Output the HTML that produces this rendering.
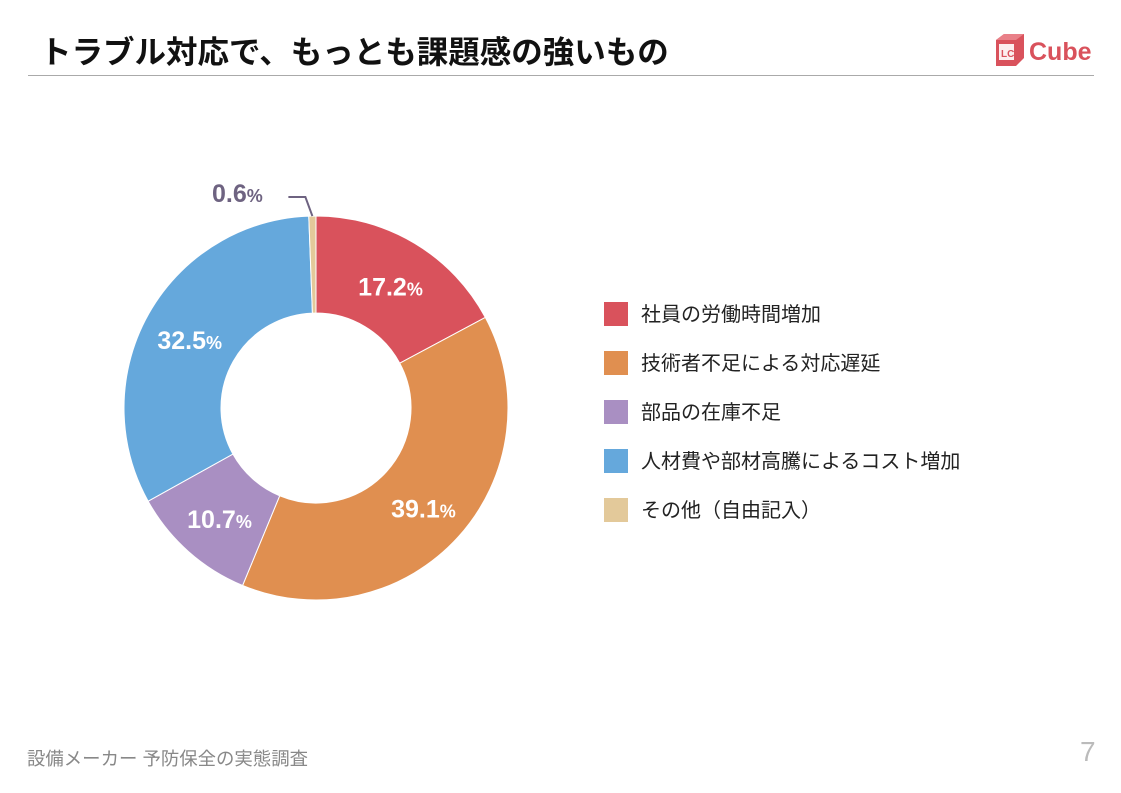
<!DOCTYPE html>
<html><head><meta charset="utf-8"><style>
body{margin:0;width:1121px;height:793px;background:#fff;position:relative;overflow:hidden;font-family:"Liberation Sans","Noto Sans CJK JP",sans-serif}
.t{position:absolute;white-space:nowrap}
</style></head><body>
<div class="t" style="left:40px;top:27px;font-size:31.5px;font-weight:bold;color:#111">トラブル対応で、もっとも課題感の強いもの</div>
<div style="position:absolute;left:28px;top:75px;width:1066px;height:1px;background:#aaa"></div>
<div style="position:absolute;left:994px;top:32px;width:100px;height:36px">
<svg width="100" height="36"><polygon points="2,8 10,2 30,2 30,26 22,34 2,34" fill="#d9525c"/><polygon points="2,8 22,8 30,2 10,2" fill="#e98088"/><rect x="5" y="12" width="15" height="16" fill="#fff" opacity=".9"/><text x="7" y="25" font-size="10" font-weight="bold" fill="#d9525c" font-family="Liberation Sans">LC</text><text x="35" y="28" font-size="25" font-weight="bold" fill="#d9525c" font-family="Liberation Sans">Cube</text></svg></div>
<svg id="chart" width="1121" height="793" style="position:absolute;left:0;top:0"></svg>
<div class="t" style="left:27px;top:745px;font-size:18.4px;color:#888">設備メーカー 予防保全の実態調査</div>
<div class="t" style="left:1080px;top:736px;font-size:28px;color:#bbb">7</div>
<script>
const categories=["社員の労働時間増加","技術者不足による対応遅延","部品の在庫不足","人材費や部材高騰によるコスト増加","その他（自由記入）"];
const values=[17.2,39.1,10.7,32.5,0.6];
const colors=["#d9525c","#e08f50","#a98fc2","#65a8dc","#e3c99a"];
const svg=document.getElementById('chart');const NS="http://www.w3.org/2000/svg";
const cx=316,cy=408,R=192,r=95;
const total=values.reduce((a,b)=>a+b,0);
function pt(a,rad){return [cx+rad*Math.sin(a),cy-rad*Math.cos(a)];}
let acc=0;
values.forEach((v,i)=>{
const a0=acc/total*2*Math.PI;acc+=v;const a1=acc/total*2*Math.PI;
const lg=(a1-a0)>Math.PI?1:0;
const [x0,y0]=pt(a0,R),[x1,y1]=pt(a1,R),[x2,y2]=pt(a1,r),[x3,y3]=pt(a0,r);
const p=document.createElementNS(NS,'path');
p.setAttribute('d',`M${x0},${y0}A${R},${R} 0 ${lg} 1 ${x1},${y1}L${x2},${y2}A${r},${r} 0 ${lg} 0 ${x3},${y3}Z`);
p.setAttribute('fill',colors[i]);p.setAttribute('stroke','#fff');p.setAttribute('stroke-width','1');


svg.appendChild(p);
const am=(a0+a1)/2;
let tx,ty,fill='#fff';
if(v<2){const [lx,ly]=pt(am,R);
const l=document.createElementNS(NS,'polyline');
l.setAttribute('points',`${lx},${ly} ${lx-7},${ly-19} ${lx-24},${ly-19}`);l.setAttribute('fill','none');l.setAttribute('stroke','#6e6381');l.setAttribute('stroke-width','2');


svg.appendChild(l);tx=lx-75;ty=ly-26;fill='#6e6381';}
else{[tx,ty]=pt(am,145);}
const t=document.createElementNS(NS,'text');
t.setAttribute('x',tx);t.setAttribute('y',ty+12);t.setAttribute('text-anchor','middle');
t.setAttribute('font-size','25');t.setAttribute('font-weight','bold');t.setAttribute('fill',fill);t.setAttribute('font-family','Liberation Sans');
t.innerHTML=v.toFixed(1)+'<tspan font-size="18">%</tspan>';


svg.appendChild(t);
const sq=document.createElementNS(NS,'rect');
sq.setAttribute('x',604);sq.setAttribute('y',302+i*49);sq.setAttribute('width',24);sq.setAttribute('height',24);sq.setAttribute('fill',colors[i]);


svg.appendChild(sq);
const lt=document.createElementNS(NS,'text');
lt.setAttribute('x',641);lt.setAttribute('y',321+i*49);lt.setAttribute('font-size','20');lt.setAttribute('fill','#222');
lt.setAttribute('font-family','"Liberation Sans","Noto Sans CJK JP",sans-serif');
lt.textContent=categories[i];


svg.appendChild(lt);
});
</script>
</body></html>
